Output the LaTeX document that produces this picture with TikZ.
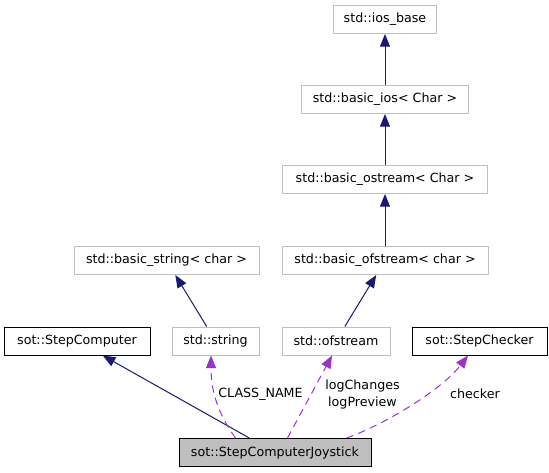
\documentclass[tikz,border=0pt]{standalone}
\usepackage{fontspec}
\setmainfont{DejaVu Sans}
\usetikzlibrary{arrows.meta,calc}
\definecolor{navyedge}{HTML}{191970}
\definecolor{purpedge}{HTML}{9A32CD}
\definecolor{greybord}{HTML}{BFBFBF}
\tikzset{
  cls/.style={draw=greybord,line width=0.75pt,fill=white,minimum height=21pt,inner sep=0pt,font=\fontsize{9.5}{11}\selectfont},
  own/.style={cls,draw=black},
  cur/.style={cls,draw=black,fill=greybord},
  inh/.style={draw=navyedge,line width=0.75pt,-{Triangle[length=9.5pt,width=7.5pt]}},
  dep/.style={draw=purpedge,line width=0.75pt,dash pattern=on 5.5pt off 4pt,-{Triangle[length=9.5pt,width=7.5pt]}},
  lbl/.style={font=\fontsize{9.5}{12.75}\selectfont,inner sep=0pt,align=center}
}
\begin{document}
\begin{tikzpicture}[x=0.75pt,y=-0.75pt]
\useasboundingbox (0,0) rectangle (549,472);
\node[cls,minimum width=103*0.75pt] (iosb) at (385,19.5) {std::ios\_base};
\node[cls,minimum width=167*0.75pt] (bios) at (385,99.5) {std::basic\_ios< Char >};
\node[cls,minimum width=205*0.75pt] (bost) at (385,179.5) {std::basic\_ostream< Char >};
\node[cls,minimum width=185*0.75pt] (bstr) at (166.5,260.5) {std::basic\_string< char >};
\node[cls,minimum width=206*0.75pt] (bofs) at (385,260.5) {std::basic\_ofstream< char >};
\node[own,minimum width=146*0.75pt] (scomp) at (77,341) {sot::StepComputer};
\node[cls,minimum width=87*0.75pt] (str) at (215.5,341) {std::string};
\node[cls,minimum width=108*0.75pt] (ofs) at (336,341) {std::ofstream};
\node[own,minimum width=135*0.75pt] (schk) at (479.5,341) {sot::StepChecker};
\node[cur,minimum width=192*0.75pt] (joy) at (275,452.5) {sot::StepComputerJoystick};

\draw[inh] (bios) -- (iosb);
\draw[inh] (bost) -- (bios);
\draw[inh] (bofs) -- (bost);
\draw[inh] (str) -- (bstr);
\draw[inh] (ofs) -- (bofs);
\draw[inh] (joy) -- (scomp);

\coordinate (j1) at ($(joy.north west)+(57,0)$);
\coordinate (j2) at ($(joy.north west)+(109,0)$);
\coordinate (j3) at ($(joy.north west)+(168,0)$);
\coordinate (s1) at ($(str.south)+(-4.5,0)$);
\coordinate (o1) at ($(ofs.south)+(-4,0)$);
\coordinate (c1) at ($(schk.south)+(-11.5,0)$);

\draw[dep] (j1) .. controls +(-18,-25) and +(0,35) .. (s1);
\draw[dep] (j2) -- (o1);
\draw[dep] (j3) .. controls +(37,-13) and +(-27,35) .. (c1);

\node[lbl] (lcn) at (260.5,394) {CLASS\_NAME};
\node[lbl] (llog) at (362.5,394.5) {logChanges\\logPreview};
\node[lbl] (lchk) at (475,394) {checker};
\end{tikzpicture}
\end{document}
